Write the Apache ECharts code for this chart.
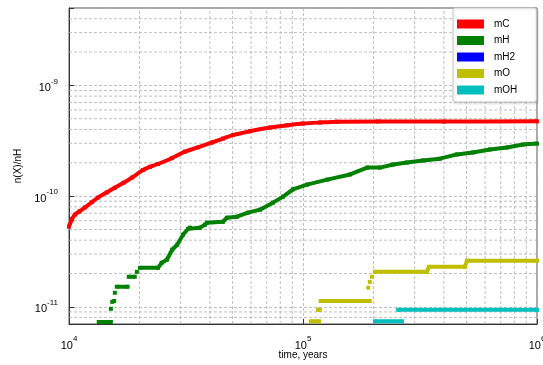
<!DOCTYPE html>
<html>
<head>
<meta charset="utf-8">
<script src="https://cdn.jsdelivr.net/npm/echarts@6/dist/echarts.min.js"></script>
<style>
html,body{margin:0;padding:0;background:#fff;}
#c{width:543px;height:365px;}
</style>
</head>
<body>
<div id="c"></div>
<script>
const seriesNames = ['mC', 'mH', 'mH2', 'mO', 'mOH'];
const seriesColors = ['#ff0000', '#008000', '#0000ff', '#bfbf00', '#00bfbf'];
const xLabelName = 'time, years';
const yLabelName = 'n(X)/nH';

const mC = [[1.0e4,5.3e-11],[1.03e4,6.2e-11],[1.06e4,6.8e-11],[1.11e4,7.3e-11],[1.17e4,7.9e-11],[1.25e4,8.8e-11],[1.33e4,9.7e-11],[1.45e4,1.08e-10],[1.57e4,1.19e-10],[1.71e4,1.32e-10],[1.86e4,1.47e-10],[2.07e4,1.72e-10],[2.22e4,1.84e-10],[2.40e4,1.95e-10],[2.75e4,2.20e-10],[3.13e4,2.52e-10],[3.56e4,2.76e-10],[4.08e4,3.05e-10],[4.55e4,3.31e-10],[5.02e4,3.56e-10],[5.94e4,3.86e-10],[7.23e4,4.17e-10],[8.55e4,4.36e-10],[1.0e5,4.52e-10],[1.18e5,4.62e-10],[1.40e5,4.70e-10],[2.09e5,4.72e-10],[4.0e5,4.72e-10],[1.0e6,4.74e-10]];

const mH = [[1.34e4,7.3e-12],[1.51e4,7.3e-12],[1.51e4,'-'],[1.51e4,9.6e-12],[1.52e4,'-'],[1.53e4,1.11e-11],[1.56e4,1.13e-11],[1.56e4,'-'],[1.57e4,1.34e-11],[1.58e4,'-'],[1.60e4,1.52e-11],[1.78e4,1.52e-11],[1.79e4,'-'],[1.80e4,1.87e-11],[1.91e4,1.87e-11],[1.93e4,'-'],[1.95e4,2.07e-11],[1.97e4,'-'],[2.01e4,2.25e-11],[2.40e4,2.25e-11],[2.49e4,2.50e-11],[2.62e4,2.66e-11],[2.76e4,3.28e-11],[2.90e4,3.64e-11],[3.07e4,4.48e-11],[3.23e4,5.08e-11],[3.29e4,5.19e-11],[3.63e4,5.19e-11],[3.81e4,5.52e-11],[3.89e4,5.75e-11],[4.55e4,5.87e-11],[4.73e4,6.38e-11],[5.22e4,6.52e-11],[5.82e4,7.09e-11],[6.55e4,7.55e-11],[7.44e4,8.73e-11],[8.22e4,9.89e-11],[9.06e4,1.15e-10],[1.04e5,1.27e-10],[1.27e5,1.41e-10],[1.59e5,1.57e-10],[1.88e5,1.81e-10],[2.13e5,1.81e-10],[2.43e5,1.93e-10],[2.78e5,2.01e-10],[3.26e5,2.10e-10],[3.85e5,2.18e-10],[4.55e5,2.38e-10],[5.32e5,2.48e-10],[6.29e5,2.64e-10],[7.44e5,2.75e-10],[8.71e5,2.92e-10],[1.0e6,2.98e-10]];

const mH2 = [];

const mO = [[1.08e5,7.4e-12],[1.17e5,7.4e-12],[1.17e5,'-'],[1.16e5,9.4e-12],[1.18e5,9.4e-12],[1.18e5,'-'],[1.19e5,1.13e-11],[1.93e5,1.13e-11],[1.93e5,'-'],[1.90e5,1.49e-11],[1.91e5,'-'],[1.93e5,1.68e-11],[1.94e5,'-'],[1.97e5,1.87e-11],[1.99e5,'-'],[2.03e5,2.07e-11],[3.39e5,2.07e-11],[3.45e5,2.30e-11],[4.92e5,2.30e-11],[5.02e5,2.61e-11],[1.0e6,2.61e-11]];

const mOH = [[2.03e5,7.4e-12],[2.65e5,7.4e-12],[2.65e5,'-'],[2.55e5,9.4e-12],[1.0e6,9.4e-12]];

const seriesData = [mC, mH, mH2, mO, mOH];
const seriesSmooth = [0.3, false, false, false, false];

const xMin = 1e4, xMax = 1e6;
const yMin = 7e-12, yMax = 5e-9;

// minor grid positions (2..9 x each decade)
const xMinor = [];
for (let e = 4; e < 6; e++) for (let m = 2; m <= 9; m++) xMinor.push(m * Math.pow(10, e));
const yMinor = [];
for (let e = -12; e < -8; e++) for (let m = 2; m <= 9; m++) {
  const v = m * Math.pow(10, e);
  if (v > yMin * 1.001 && v < yMax * 0.999) yMinor.push(v);
}

function powLabel(v) {
  const l = Math.log10(v);
  const r = Math.round(l);
  if (Math.abs(l - r) > 1e-6) return '';
  return '{b|10}{s|' + r + '}';
}

const labelRich = {
  b: {fontSize: 11, fontFamily: 'Liberation Sans', color: '#000', verticalAlign: 'bottom', lineHeight: 16},
  s: {fontSize: 8, fontFamily: 'Liberation Sans', color: '#000', verticalAlign: 'top', lineHeight: 16}
};

const gridLine = {type: [3, 2], color: '#b0b0b0', width: 0.8};

// minor grid drawn as broken line segments through the axes' scales
const minorGridData = [];
xMinor.forEach(v => { minorGridData.push([v, yMin], [v, yMax], [v, '-']); });
const minorGridDataY = [];
yMinor.forEach(v => { minorGridDataY.push([xMin, v], [xMax, v], [xMax, '-']); });

const chart = echarts.init(document.getElementById('c'), null, {renderer: 'canvas'});

const series = seriesNames.map((n, i) => ({
  name: n,
  type: 'line',
  data: seriesData[i],
  color: seriesColors[i],
  smooth: seriesSmooth[i],
  lineStyle: {width: 4, color: seriesColors[i]},
  itemStyle: {color: seriesColors[i], borderWidth: 0},
  symbol: 'rect',
  symbolSize: 4,
  showSymbol: true,
  showAllSymbol: true,
  connectNulls: false,
  z: 3,
  silent: true
}));

series.unshift({
  name: '_gridx', type: 'line', data: minorGridData, symbol: 'none', showSymbol: false,
  connectNulls: false, lineStyle: gridLine, z: 1, silent: true
}, {
  name: '_gridy', type: 'line', data: minorGridDataY, symbol: 'none', showSymbol: false,
  connectNulls: false, lineStyle: gridLine, z: 1, silent: true
});

chart.setOption({
  animation: false,
  backgroundColor: '#fff',
  grid: {left: 69, right: 6, top: 8, bottom: 41, show: true, borderColor: '#555', borderWidth: 1, backgroundColor: 'transparent', containLabel: false, outerBoundsMode: 'none'},
  legend: {
    data: seriesNames.map((n, i) => ({
      name: n,
      icon: 'rect',
      itemStyle: {color: seriesColors[i], borderColor: seriesColors[i], borderWidth: 0}
    })),
    orient: 'vertical',
    left: 453,
    top: 8,
    itemWidth: 27,
    itemHeight: 9,
    itemGap: 4.5,
    padding: [10, 19, 6, 4],
    backgroundColor: '#fff',
    borderColor: '#c8c8c8',
    borderWidth: 1,
    borderRadius: 2,
    shadowColor: 'rgba(0,0,0,0.15)',
    shadowBlur: 3,
    shadowOffsetX: 1,
    shadowOffsetY: 1,
    textStyle: {fontSize: 10, fontFamily: 'Liberation Sans', color: '#000', lineHeight: 12, padding: [0, 0, 0, 5]},
    selectedMode: false
  },
  xAxis: {
    type: 'log',
    logBase: 10,
    min: xMin,
    max: xMax,
    name: xLabelName,
    nameLocation: 'middle',
    nameGap: 26,
    nameMoveOverlap: false,
    nameTextStyle: {fontSize: 10, fontFamily: 'Liberation Sans', color: '#000'},
    axisLine: {show: true, lineStyle: {color: '#333', width: 1}},
    axisTick: {show: true, inside: true, length: 5, lineStyle: {color: '#333'}},
    axisLabel: {formatter: powLabel, rich: labelRich, margin: 11, showMinLabel: true, showMaxLabel: true},
    splitLine: {show: true, lineStyle: gridLine}
  },
  yAxis: {
    type: 'log',
    logBase: 10,
    min: yMin,
    max: yMax,
    name: yLabelName,
    nameLocation: 'middle',
    nameGap: 37,
    nameTextStyle: {fontSize: 10, fontFamily: 'Liberation Sans', color: '#000'},
    axisLine: {show: true, lineStyle: {color: '#333', width: 1}},
    axisTick: {show: true, inside: true, length: 5, lineStyle: {color: '#333'}},
    axisLabel: {formatter: powLabel, rich: labelRich, margin: 11},
    splitLine: {show: true, lineStyle: gridLine}
  },
  series: series
});
</script>
</body>
</html>
